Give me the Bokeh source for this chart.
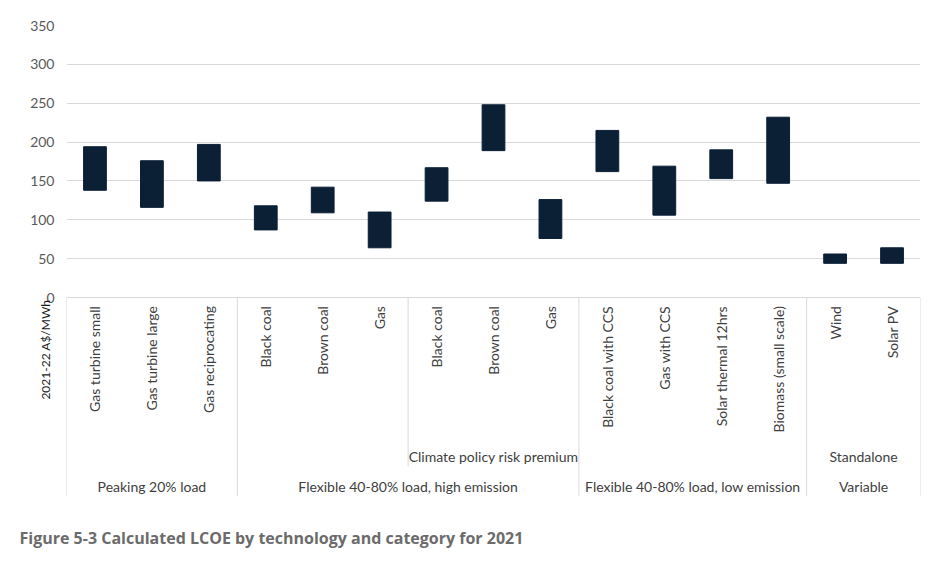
#LCOE ranges by technology and category

import math
from bokeh.plotting import figure
from bokeh.models import ColumnDataSource, FixedTicker, Range1d, Label, Title
from bokeh.core.properties import value
from bokeh.embed import file_html
from bokeh.resources import INLINE

#Chart values

techs = ["Gas turbine small", "Gas turbine large", "Gas reciprocating",
         "Black coal", "Brown coal", "Gas",
         "Black coal", "Brown coal", "Gas",
         "Black coal with CCS", "Gas with CCS", "Solar thermal 12hrs", "Biomass (small scale)",
         "Wind", "Solar PV"]

lcoe_low = [138, 116, 150, 87, 109, 64, 124, 189, 76, 162, 106, 153, 147, 44, 44]
lcoe_high = [194, 176, 197, 118, 142, 110, 167, 248, 126, 215, 169, 190, 232, 56, 64]

groups = ["Peaking 20% load", "Flexible 40-80% load, high emission",
          "Flexible 40-80% load, low emission", "Variable"]
group_sizes = [3, 6, 4, 2]

#sub groups: (first category, number of categories, label)
subgroups = [(6, 3, "Climate policy risk premium"), (13, 2, "Standalone")]

y_ticks = [0, 50, 100, 150, 200, 250, 300, 350]

font = value("Lato")
label_color = "#404040"

#Create the figure

p = figure(frame_width=854, frame_height=471, min_border_left=66, min_border_right=7,
           min_border_top=25, min_border_bottom=0,
           x_range=Range1d(0, len(techs)), y_range=Range1d(-256, 350),
           output_backend="svg", toolbar_location=None)

p.outline_line_color = None
p.xaxis.visible = False
p.xgrid.visible = False

p.yaxis.ticker = FixedTicker(ticks=y_ticks)
p.ygrid.ticker = FixedTicker(ticks=y_ticks)
p.ygrid.grid_line_color = "#d9d9d9"
p.yaxis.axis_line_color = None
p.yaxis.major_tick_line_color = None
p.yaxis.minor_tick_line_color = None
p.yaxis.major_tick_out = 0
p.yaxis.major_tick_in = 0
p.yaxis.major_label_standoff = 12
p.yaxis.major_label_text_font = "Lato"
p.yaxis.major_label_text_font_size = "14px"
p.yaxis.major_label_text_color = "#595959"

#Bars spanning low to high

centers = [i + 0.5 for i in range(len(techs))]
bars = ColumnDataSource(dict(x=centers, low=lcoe_low, high=lcoe_high))
p.vbar(x="x", width=0.4, bottom="low", top="high", source=bars,
       fill_color="#0b1f35", line_color="#0b1f35")

#Technology labels (vertical)

p.text(x=centers, y=[-11] * len(techs), text=techs, angle=math.pi / 2,
       text_align="right", text_baseline="middle", text_font=font,
       text_font_size="14px", text_color=label_color)

#Group labels and separators

edges = [0]
for size in group_sizes:
    edges.append(edges[-1] + size)

group_centers = [(edges[i] + edges[i + 1]) / 2 for i in range(len(groups))]
p.text(x=group_centers, y=[-243] * len(groups), text=groups, text_align="center",
       text_baseline="middle", text_font=font, text_font_size="14px", text_color=label_color)

p.segment(x0=edges, y0=[0] * len(edges), x1=edges, y1=[-256] * len(edges),
          line_color="#d9d9d9", line_width=1)

sub_centers = [start + n / 2 for start, n, _ in subgroups]
sub_labels = [lab for _, _, lab in subgroups]
p.text(x=sub_centers, y=[-205] * len(subgroups), text=sub_labels, text_align="center",
       text_baseline="middle", text_font=font, text_font_size="14px", text_color=label_color)

inner = [start for start, _, _ in subgroups if start not in edges]
p.segment(x0=inner, y0=[0] * len(inner), x1=inner, y1=[-217] * len(inner),
          line_color="#d9d9d9", line_width=1)

#Axis title placed low, as in the source figure (side panel so it is not clipped)

p.add_layout(Label(x=-0.37, y=-67, text="2021-22 A$/MWh", angle=math.pi / 2,
                   text_align="center", text_baseline="middle", text_font="Lato",
                   text_font_size="12px", text_color="#1a1a1a"), "left")

#Caption

p.add_layout(Title(text="Figure 5-3 Calculated LCOE by technology and category for 2021",
                   align="left", offset=-47, standoff=56, text_font="Open Sans",
                   text_font_style="bold", text_font_size="16px", text_color="#6b6b6b"), "below")

open("out.html", "w").write(file_html(p, INLINE))
